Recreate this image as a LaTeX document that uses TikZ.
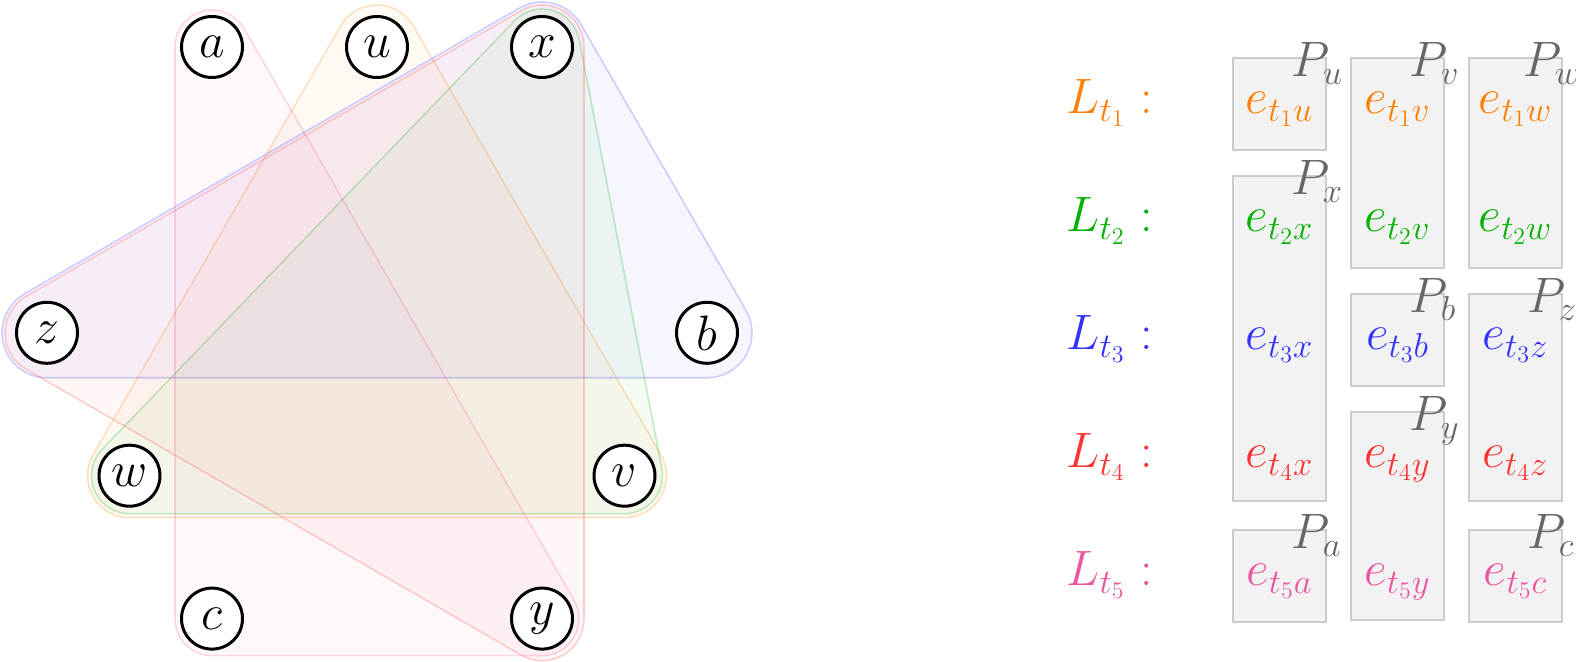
\documentclass[tikz,border=0pt]{standalone}
\usetikzlibrary{calc}
\definecolor{cOne}{RGB}{255,128,0}
\definecolor{cTwo}{RGB}{0,178,0}
\definecolor{cThree}{RGB}{51,51,255}
\definecolor{cFour}{RGB}{255,51,51}
\definecolor{cFive}{RGB}{238,85,160}
\definecolor{boxfill}{RGB}{242,242,242}
\definecolor{boxline}{RGB}{204,204,204}
\definecolor{plabcol}{RGB}{102,102,102}
\tikzset{
  vert/.style={circle, draw=black, line width=1.5pt, fill=white, minimum size=30.5pt, inner sep=0pt, font=\fontsize{26}{30}\selectfont},
  hyp/.style={draw=#1, fill=#1, draw opacity=0.23, fill opacity=0.045, line width=0.8pt},
  pbox/.style={draw=boxline, fill=boxfill, line width=1pt},
  plab/.style={anchor=base west, inner sep=0pt, text=plabcol, font=\fontsize{24}{28}\selectfont},
  elab/.style={anchor=base, inner sep=0pt, font=\fontsize{25}{29}\selectfont},
  llab/.style={anchor=base west, inner sep=0pt, font=\fontsize{25}{29}\selectfont}
}
\begin{document}
\begin{tikzpicture}[x=0.5pt,y=-0.5pt]
\useasboundingbox (0,0) rectangle (1576,662);
% vertex positions
\coordinate (ca) at (212,47);
\coordinate (cu) at (377,47);
\coordinate (cx) at (542,47);
\coordinate (cz) at (47,332.8);
\coordinate (cb) at (707,332.8);
\coordinate (cw) at (129.5,475.7);
\coordinate (cv) at (624.5,475.7);
\coordinate (cc) at (212,618.6);
\coordinate (cy) at (542,618.6);
% hyperedge t1 (u,v,w)
\path[hyp=cOne] ($(cu)+(-30:42)$) -- ($(cv)+(-30:42)$) arc[start angle=-30,end angle=90,radius=42]
  -- ($(cw)+(90:42)$) arc[start angle=90,end angle=210,radius=42]
  -- ($(cu)+(210:42)$) arc[start angle=210,end angle=330,radius=42] -- cycle;
% hyperedge t2 (x,v,w)
\path[hyp=cTwo] ($(cx)+(-10.89:38)$) -- ($(cv)+(-10.89:38)$) arc[start angle=-10.89,end angle=90,radius=38]
  -- ($(cw)+(90:38)$) arc[start angle=90,end angle=223.9,radius=38]
  -- ($(cx)+(223.9:38)$) arc[start angle=223.9,end angle=349.11,radius=38] -- cycle;
% hyperedge t3 (x,b,z)
\path[hyp=cThree] ($(cx)+(-30:45)$) -- ($(cb)+(-30:45)$) arc[start angle=-30,end angle=90,radius=45]
  -- ($(cz)+(90:45)$) arc[start angle=90,end angle=240,radius=45]
  -- ($(cx)+(240:45)$) arc[start angle=240,end angle=330,radius=45] -- cycle;
% hyperedge t4 (x,y,z)
\path[hyp=cFour] ($(cx)+(0:42)$) -- ($(cy)+(0:42)$) arc[start angle=0,end angle=120,radius=42]
  -- ($(cz)+(120:42)$) arc[start angle=120,end angle=240,radius=42]
  -- ($(cx)+(240:42)$) arc[start angle=240,end angle=360,radius=42] -- cycle;
% hyperedge t5 (a,y,c)
\path[hyp=cFive] ($(ca)+(-30:37)$) -- ($(cy)+(-30:37)$) arc[start angle=-30,end angle=90,radius=37]
  -- ($(cc)+(90:37)$) arc[start angle=90,end angle=180,radius=37]
  -- ($(ca)+(180:37)$) arc[start angle=180,end angle=330,radius=37] -- cycle;
% vertices
\node[vert] (a) at (ca) {$a$};
\node[vert] (u) at (cu) {$u$};
\node[vert] (x) at (cx) {$x$};
\node[vert] (z) at (cz) {$z$};
\node[vert] (b) at (cb) {$b$};
\node[vert] (w) at (cw) {$w$};
\node[vert] (v) at (cv) {$v$};
\node[vert] (c) at (cc) {$c$};
\node[vert] (y) at (cy) {$y$};
% partition boxes
\draw[pbox] (1233,58) rectangle (1326,150);
\draw[pbox] (1351,58) rectangle (1444,268.5);
\draw[pbox] (1469,58) rectangle (1562,268.5);
\draw[pbox] (1233,176) rectangle (1326,501.5);
\draw[pbox] (1351,294) rectangle (1444,386.5);
\draw[pbox] (1469,294) rectangle (1562,501);
\draw[pbox] (1351,412) rectangle (1444,620);
\draw[pbox] (1233,530) rectangle (1326,622.5);
\draw[pbox] (1469,530) rectangle (1562,622.5);
% partition labels
\node[plab] (Pu) at (1291,77) {$P_u$};
\node[plab] (Pv) at (1409,77) {$P_v$};
\node[plab] (Pw) at (1523,77) {$P_w$};
\node[plab] (Px) at (1291,195) {$P_x$};
\node[plab] (Pb) at (1409,313) {$P_b$};
\node[plab] (Pz) at (1527,313) {$P_z$};
\node[plab] (Py) at (1409,431) {$P_y$};
\node[plab] (Pa) at (1291,549) {$P_a$};
\node[plab] (Pc) at (1527,549) {$P_c$};
% row labels
\node[llab, text=cOne] (L1) at (1066,114) {$L_{t_1}$ :};
\node[llab, text=cTwo] (L2) at (1066,232) {$L_{t_2}$ :};
\node[llab, text=cThree] (L3) at (1066,350) {$L_{t_3}$ :};
\node[llab, text=cFour] (L4) at (1066,468) {$L_{t_4}$ :};
\node[llab, text=cFive] (L5) at (1066,586) {$L_{t_5}$ :};
% entries
\node[elab, text=cOne] (e1u) at (1279.5,114) {$e_{t_1u}$};
\node[elab, text=cOne] (e1v) at (1397.5,114) {$e_{t_1v}$};
\node[elab, text=cOne] (e1w) at (1515.5,114) {$e_{t_1w}$};
\node[elab, text=cTwo] (e2x) at (1279.5,232) {$e_{t_2x}$};
\node[elab, text=cTwo] (e2v) at (1397.5,232) {$e_{t_2v}$};
\node[elab, text=cTwo] (e2w) at (1515.5,232) {$e_{t_2w}$};
\node[elab, text=cThree] (e3x) at (1279.5,350) {$e_{t_3x}$};
\node[elab, text=cThree] (e3b) at (1397.5,350) {$e_{t_3b}$};
\node[elab, text=cThree] (e3z) at (1515.5,350) {$e_{t_3z}$};
\node[elab, text=cFour] (e4x) at (1279.5,468) {$e_{t_4x}$};
\node[elab, text=cFour] (e4y) at (1397.5,468) {$e_{t_4y}$};
\node[elab, text=cFour] (e4z) at (1515.5,468) {$e_{t_4z}$};
\node[elab, text=cFive] (e5a) at (1279.5,586) {$e_{t_5a}$};
\node[elab, text=cFive] (e5y) at (1397.5,586) {$e_{t_5y}$};
\node[elab, text=cFive] (e5c) at (1515.5,586) {$e_{t_5c}$};
\end{tikzpicture}
\end{document}
